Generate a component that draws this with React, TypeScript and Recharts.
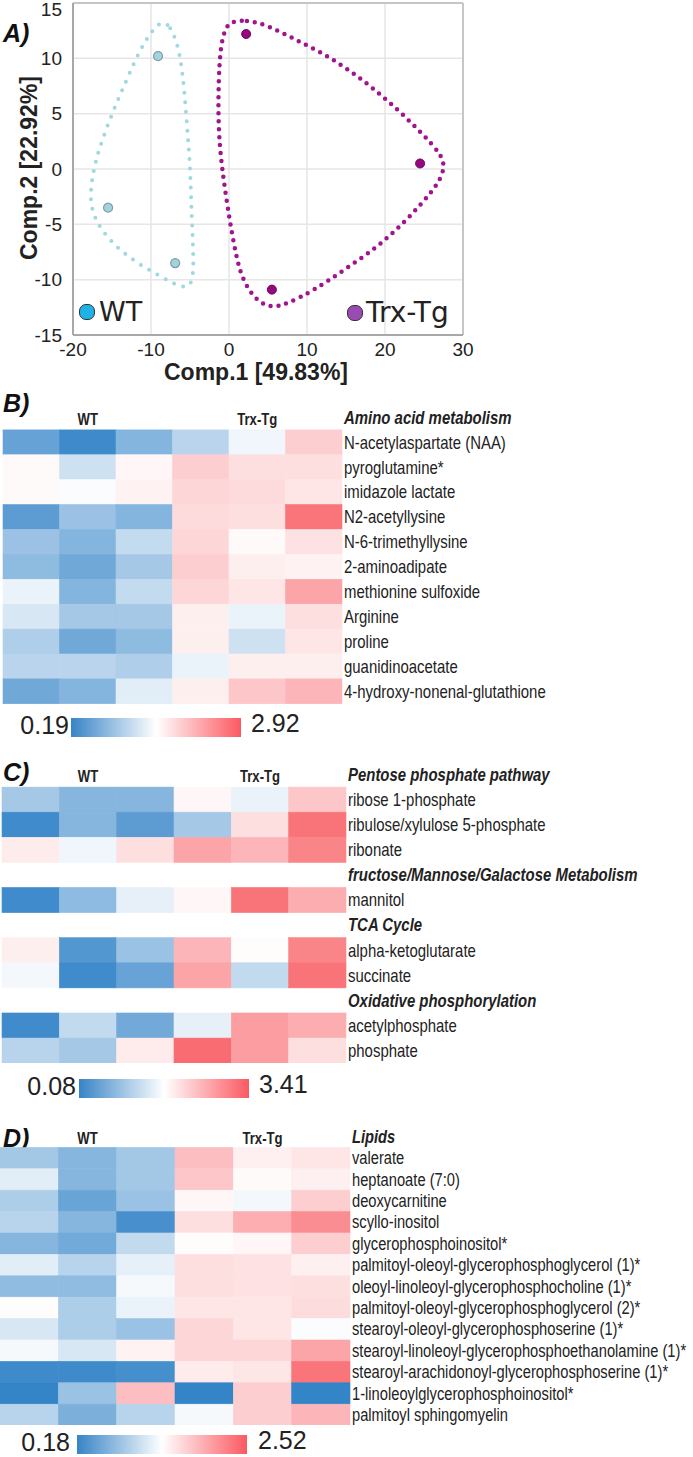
import React from 'react';
import { ScatterChart, Scatter, XAxis, YAxis, CartesianGrid, ReferenceLine, Label } from 'recharts';

// A) PCA scores (Comp.1, Comp.2)
const wtScores = [
  { x: -9.1, y: 10.2 },
  { x: -15.5, y: -3.5 },
  { x: -6.9, y: -8.5 },
];
const tgScores = [
  { x: 2.2, y: 12.2 },
  { x: 24.5, y: 0.5 },
  { x: 5.5, y: -10.9 },
];
// dotted group outlines
const wtHull = [
  { x: -8.6, y: 13.4 }, { x: -7.5, y: 12.9 }, { x: -6.6, y: 11.3 }, { x: -5.9, y: 8.8 },
  { x: -5.3, y: 3.1 }, { x: -5.0, y: 0.6 }, { x: -4.8, y: -4.0 }, { x: -4.6, y: -7.0 },
  { x: -4.5, y: -10.5 }, { x: -6.0, y: -10.8 }, { x: -8.8, y: -9.7 }, { x: -12.3, y: -8.3 },
  { x: -15.3, y: -6.5 }, { x: -17.0, y: -4.8 }, { x: -17.9, y: -3.0 }, { x: -17.5, y: -0.5 },
  { x: -16.7, y: 1.8 }, { x: -14.9, y: 5.2 }, { x: -13.1, y: 8.1 }, { x: -11.4, y: 10.8 },
  { x: -9.9, y: 12.5 },
];
const tgHull = [
  { x: 0.1, y: 13.3 }, { x: 2.2, y: 13.5 }, { x: 4.9, y: 13.0 }, { x: 8.2, y: 11.8 },
  { x: 11.7, y: 10.6 }, { x: 15.1, y: 9.1 }, { x: 18.5, y: 7.3 }, { x: 21.9, y: 5.2 },
  { x: 24.9, y: 3.1 }, { x: 27.1, y: 1.4 }, { x: 27.7, y: 0.3 }, { x: 27.0, y: -1.2 },
  { x: 24.5, y: -3.3 }, { x: 21.5, y: -5.5 }, { x: 18.5, y: -7.3 }, { x: 14.6, y: -9.2 },
  { x: 10.8, y: -11.0 }, { x: 7.4, y: -12.2 }, { x: 5.3, y: -12.6 }, { x: 3.2, y: -11.7 },
  { x: 1.8, y: -10.0 }, { x: 1.1, y: -8.5 }, { x: 0.1, y: -4.8 }, { x: -0.9, y: 0.0 },
  { x: -1.3, y: 3.0 }, { x: -1.4, y: 6.1 }, { x: -1.2, y: 10.6 }, { x: -0.6, y: 12.5 },
];
const pcaXTicks = [-20, -10, 0, 10, 20, 30];
const pcaYTicks = [15, 10, 5, 0, -5, -10, -15];

const groupLabels = ['WT', 'Trx-Tg'];

// B) amino acid metabolism (fold change)
const aminoRows = [
  'Amino acid metabolism',
  'N-acetylaspartate (NAA)',
  'pyroglutamine*',
  'imidazole lactate',
  'N2-acetyllysine',
  'N-6-trimethyllysine',
  '2-aminoadipate',
  'methionine sulfoxide',
  'Arginine',
  'proline',
  'guanidinoacetate',
  '4-hydroxy-nonenal-glutathione',
];
const aminoHeaders = ['Amino acid metabolism'];
const aminoValues = [
  [0.39, 0.23, 0.51, 0.72, 0.94, 1.58],
  [1.06, 0.8, 1.1, 1.58, 1.38, 1.38],
  [1.06, 0.98, 1.15, 1.48, 1.42, 1.29],
  [0.35, 0.6, 0.51, 1.42, 1.38, 2.63],
  [0.6, 0.51, 0.76, 1.48, 1.06, 1.35],
  [0.55, 0.43, 0.64, 1.58, 1.19, 1.15],
  [0.92, 0.51, 0.76, 1.48, 1.29, 2.06],
  [0.84, 0.64, 0.64, 1.19, 0.92, 1.38],
  [0.68, 0.43, 0.55, 1.19, 0.8, 1.29],
  [0.72, 0.72, 0.68, 0.92, 1.19, 1.19],
  [0.43, 0.51, 0.88, 1.19, 1.67, 1.86],
];
const aminoRange = [0.19, 2.92];

// C) energy metabolism
const energyRows = [
  'Pentose phosphate pathway',
  'ribose 1-phosphate',
  'ribulose/xylulose 5-phosphate',
  'ribonate',
  'fructose/Mannose/Galactose Metabolism',
  'mannitol',
  'TCA Cycle',
  'alpha-ketoglutarate',
  'succinate',
  'Oxidative phosphorylation',
  'acetylphosphate',
  'phosphate',
];
const energyHeaders = [
  'Pentose phosphate pathway',
  'fructose/Mannose/Galactose Metabolism',
  'TCA Cycle',
  'Oxidative phosphorylation',
];
const energyValues = [
  [0.59, 0.45, 0.45, 1.12, 0.91, 1.84],
  [0.13, 0.45, 0.26, 0.59, 1.48, 3.05],
  [1.29, 0.93, 1.48, 2.33, 2.08, 2.81],
  [0.13, 0.49, 0.89, 1.12, 3.05, 2.21],
  [1.24, 0.22, 0.54, 2.08, 1.05, 2.81],
  [0.95, 0.13, 0.31, 2.33, 0.72, 3.05],
  [0.13, 0.72, 0.36, 0.89, 2.45, 2.21],
  [0.68, 0.59, 1.29, 3.17, 2.45, 1.48],
];
const energyRange = [0.08, 3.41];

// D) lipids
const lipidRows = [
  'Lipids',
  'valerate',
  'heptanoate (7:0)',
  'deoxycarnitine',
  'scyllo-inositol',
  'glycerophosphoinositol*',
  'palmitoyl-oleoyl-glycerophosphoglycerol (1)*',
  'oleoyl-linoleoyl-glycerophosphocholine (1)*',
  'palmitoyl-oleoyl-glycerophosphoglycerol (2)*',
  'stearoyl-oleoyl-glycerophosphoserine (1)*',
  'stearoyl-linoleoyl-glycerophosphoethanolamine (1)*',
  'stearoyl-arachidonoyl-glycerophosphoserine (1)*',
  '1-linoleoylglycerophosphoinositol*',
  'palmitoyl sphingomyelin',
];
const lipidHeaders = ['Lipids'];
const lipidValues = [
  [0.63, 0.51, 0.63, 1.61, 1.15, 1.23],
  [0.88, 0.51, 0.63, 1.53, 1.05, 1.15],
  [0.67, 0.39, 0.59, 1.08, 0.95, 1.46],
  [0.71, 0.51, 0.26, 1.3, 1.76, 2.06],
  [0.51, 0.43, 0.75, 1.03, 1.08, 1.46],
  [0.88, 0.71, 0.9, 1.3, 1.27, 1.15],
  [0.55, 0.55, 0.96, 1.3, 1.27, 1.3],
  [1.03, 0.67, 0.92, 1.23, 1.23, 1.33],
  [0.84, 0.67, 0.59, 1.38, 1.23, 0.98],
  [0.96, 0.84, 1.12, 1.38, 1.38, 1.84],
  [0.22, 0.22, 0.25, 1.18, 1.23, 2.29],
  [0.18, 0.59, 1.61, 0.18, 1.46, 0.18],
  [0.71, 0.47, 0.71, 0.96, 1.46, 1.68],
];
const lipidRange = [0.18, 2.52];

const BLUE = [52, 132, 200];
const RED = [248, 92, 98];
const SANS = "'Liberation Sans', Arial, sans-serif";

function mix(c: number[], t: number) {
  const k = Math.max(0, Math.min(1, t));
  const ch = c.map((v) => Math.round(255 + (v - 255) * k));
  return `rgb(${ch[0]},${ch[1]},${ch[2]})`;
}

function foldColor(v: number, min: number, max: number) {
  if (v < 1) return mix(BLUE, (1 - v) / (1 - min));
  return mix(RED, (v - 1) / (max - 1));
}

// keep the top tick label ("15") inside the page
const PcaYTick = (p: any) => (
  <text x={p.x} y={Math.max(p.y, 9)} dy="0.35em" textAnchor="end" fontFamily={SANS} fontSize={19} fill="#222">
    {p.payload.value}
  </text>
);

const PcaChart = () => {
  return (
    <div style={{ position: 'absolute', left: 0, top: 0 }}>
      <ScatterChart width={480} height={400} margin={{ top: 3, right: 17, bottom: 0, left: 0 }} style={{ overflow: 'visible' }}>
        <CartesianGrid stroke="#e6e6e6" strokeWidth={1.5} />
        <XAxis
          type="number"
          dataKey="x"
          domain={[-20, 30]}
          ticks={pcaXTicks}
          interval={0}
          height={65}
          tickLine={false}
          stroke="#a8a8a8"
          strokeWidth={2}
          tick={{ fill: '#222', fontSize: 19, fontFamily: SANS }}
        >
          <Label
            content={() => (
              <text x={256} y={380} textAnchor="middle" fontFamily={SANS} fontWeight="bold" fontSize={23} fill="#222">
                Comp.1 [49.83%]
              </text>
            )}
          />
        </XAxis>
        <YAxis
          type="number"
          dataKey="y"
          domain={[-15, 15]}
          ticks={pcaYTicks}
          interval={0}
          width={73}
          tickLine={false}
          tickMargin={5}
          stroke="#a8a8a8"
          strokeWidth={2}
          tick={<PcaYTick />}
        >
          <Label
            content={() => (
              <text
                x={37}
                y={168}
                transform="rotate(-90 37 168)"
                textAnchor="middle"
                fontFamily={SANS}
                fontWeight="bold"
                fontSize={23}
                fill="#222"
              >
                Comp.2 [22.92%]
              </text>
            )}
          />
        </YAxis>
        <ReferenceLine y={15} stroke="#c6c6c6" strokeWidth={2} />
        <ReferenceLine x={30} stroke="#c6c6c6" strokeWidth={2} />
        <Scatter
          data={wtHull}
          isAnimationActive={false}
          shape={() => <g />}
          line={{ stroke: '#9fd8e1', strokeWidth: 4, strokeDasharray: '0 9.5', strokeLinecap: 'round' }}
          lineJointType="basisClosed"
        />
        <Scatter
          data={tgHull}
          isAnimationActive={false}
          shape={() => <g />}
          line={{ stroke: '#a0148e', strokeWidth: 4.5, strokeDasharray: '0 8', strokeLinecap: 'round' }}
          lineJointType="basisClosed"
        />
        <Scatter data={wtScores} isAnimationActive={false} fill="#a3d3dc" stroke="#7f9ea6" strokeWidth={1.2} shape="circle" />
        <Scatter data={tgScores} isAnimationActive={false} fill="#95087f" stroke="#6d0a5e" strokeWidth={1} shape="circle" />
      </ScatterChart>
      <div style={{ position: 'absolute', left: 79, top: 296, display: 'flex', alignItems: 'center', fontFamily: "'DejaVu Sans', sans-serif", fontSize: 27, color: '#222' }}>
        <span style={{ width: 14, height: 14, borderRadius: 7, background: '#1eb2e7', border: '1px solid #333', marginRight: 4 }} />
        <span>{groupLabels[0]}</span>
      </div>
      <div style={{ position: 'absolute', left: 347, top: 296, display: 'flex', alignItems: 'center', fontFamily: "'DejaVu Sans', sans-serif", fontSize: 28, color: '#222' }}>
        <span style={{ width: 14, height: 14, borderRadius: 7, background: '#9a4bb3', border: '1px solid #333', marginRight: 3 }} />
        <span>{groupLabels[1]}</span>
      </div>
    </div>
  );
};

type HeatProps = {
  rows: string[];
  headers: string[];
  values: number[][];
  range: number[];
  top: number;
  left: number;
  right: number;
  rowH: number;
  fontSize: number;
  squeeze: number;
};

const Heatmap = ({ rows, headers, values, range, top, left, right, rowH, fontSize, squeeze }: HeatProps) => {
  const cellW = (right - left) / 6;
  const cells: { col: number; row: number; v: number }[] = [];
  let k = 0;
  rows.forEach((name, r) => {
    if (headers.includes(name)) return;
    values[k].forEach((v, c) => cells.push({ col: c, row: r, v }));
    k += 1;
  });
  const axisH = 2;
  const height = rows.length * rowH + axisH;

  // no narrow face installed: squeeze Liberation Sans horizontally
  const GroupTick = (p: any) => (
    <text
      transform={`translate(${p.x},${axisH + rowH / 2 + 2}) scale(0.82,1)`}
      dy="0.35em"
      textAnchor="middle"
      fontFamily={SANS}
      fontWeight="bold"
      fontSize={16}
      fill="#222"
    >
      {groupLabels[p.payload.value === 1 ? 0 : 1]}
    </text>
  );
  const RowTick = (p: any) => {
    const name = rows[p.payload.value];
    const isHeader = headers.includes(name);
    return (
      <text
        transform={`translate(${p.x},${p.y}) scale(${squeeze},1)`}
        dy="0.35em"
        textAnchor="start"
        fontFamily={SANS}
        fontSize={fontSize}
        fontWeight={isHeader ? 'bold' : 'normal'}
        fontStyle={isHeader ? 'italic' : 'normal'}
        fill="#222"
      >
        {name}
      </text>
    );
  };

  return (
    <div style={{ position: 'absolute', left: 0, top: top - axisH }}>
      <ScatterChart width={693} height={height} margin={{ top: 0, right: 0, bottom: 0, left }} style={{ overflow: 'visible' }}>
        <XAxis
          type="number"
          dataKey="col"
          domain={[-0.5, 5.5]}
          ticks={[1, 4]}
          interval={0}
          orientation="top"
          height={axisH}
          axisLine={false}
          tickLine={false}
          tick={<GroupTick />}
        />
        <YAxis
          type="number"
          dataKey="row"
          domain={[-0.5, rows.length - 0.5]}
          reversed
          orientation="right"
          width={693 - right}
          ticks={rows.map((_, i) => i)}
          interval={0}
          axisLine={false}
          tickLine={false}
          tickSize={0}
          tickMargin={2}
          tick={<RowTick />}
        />
        <Scatter
          data={cells}
          isAnimationActive={false}
          shape={(p: any) => {
            const c = foldColor(p.payload.v, range[0], range[1]);
            return (
              <rect
                x={p.cx - cellW / 2}
                y={p.cy - rowH / 2}
                width={cellW}
                height={rowH}
                fill={c}
                stroke={c}
                strokeWidth={0.6}
              />
            );
          }}
        />
      </ScatterChart>
    </div>
  );
};

const ColorBar = ({ range, id, top, textL, barL, textR }: { range: number[]; id: string; top: number; textL: number; barL: number; textR: number }) => (
  <svg style={{ position: 'absolute', left: 0, top: top - 12 }} width={340} height={52}>
    <defs>
      <linearGradient id={id} x1="0" y1="0" x2="1" y2="0">
        <stop offset="0" stopColor="#3784c6" />
        <stop offset="0.5" stopColor="#ffffff" />
        <stop offset="1" stopColor="#fb5961" />
      </linearGradient>
    </defs>
    <text x={textL} y={24} dy="0.35em" textAnchor="end" fontFamily={SANS} fontSize={25} fill="#222">
      {range[0].toFixed(2)}
    </text>
    <rect x={barL} y={17} width={170} height={19} fill={`url(#${id})`} />
    <text x={textR} y={22} dy="0.35em" textAnchor="start" fontFamily={SANS} fontSize={25} fill="#222">
      {range[1].toFixed(2)}
    </text>
  </svg>
);

const PanelLetter = ({ text, top }: { text: string; top: number }) => (
  <div style={{ position: 'absolute', left: 3, top, fontFamily: SANS, fontWeight: 'bold', fontStyle: 'italic', fontSize: 25, lineHeight: '28px', color: '#111' }}>
    {text}
  </div>
);

export default function App() {
  return (
    <div style={{ position: 'absolute', left: 0, top: 0, width: 693, height: 1457, background: '#fff', overflow: 'hidden' }}>
      <PcaChart />
      <PanelLetter text="A)" top={19} />
      <PanelLetter text="B)" top={389} />
      <PanelLetter text="C)" top={758} />
      <PanelLetter text="D)" top={1124} />
      <Heatmap rows={aminoRows} headers={aminoHeaders} values={aminoValues} range={aminoRange} top={405} left={3} right={342} rowH={24.9} fontSize={18} squeeze={0.83} />
      <ColorBar range={aminoRange} id="gB" top={713} textL={69} barL={71} textR={251} />
      <Heatmap rows={energyRows} headers={energyHeaders} values={energyValues} range={energyRange} top={762} left={2} right={346} rowH={25.1} fontSize={18} squeeze={0.83} />
      <ColorBar range={energyRange} id="gC" top={1074} textL={76} barL={79} textR={259} />
      <Heatmap rows={lipidRows} headers={lipidHeaders} values={lipidValues} range={lipidRange} top={1125.6} left={0} right={350} rowH={21.4} fontSize={17.5} squeeze={0.84} />
      <ColorBar range={lipidRange} id="gD" top={1430} textL={70} barL={77} textR={258} />
    </div>
  );
}
